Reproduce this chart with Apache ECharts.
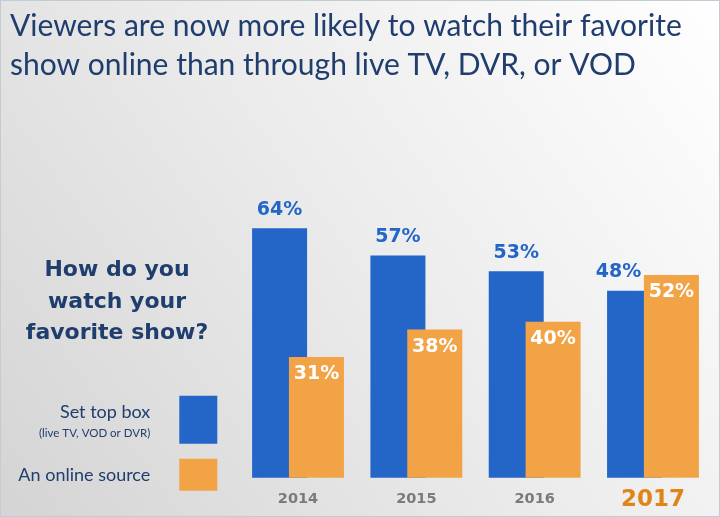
<!DOCTYPE html>
<html>
<head>
<meta charset="utf-8">
<script src="https://cdn.jsdelivr.net/npm/echarts@6/dist/echarts.min.js"></script>
<style>html,body{margin:0;padding:0;background:#fff}#c{width:720px;height:517px}</style>
</head>
<body>
<div id="c"></div>
<script>
const categories = ['2014', '2015', '2016', '2017'];
const setTopBox = [64, 57, 53, 48];
const onlineSource = [31, 38, 40, 52];
const seriesNames = ['Set top box', 'An online source'];
const titleLines = ['Viewers are now more likely to watch their favorite', 'show online than through live TV, DVR, or VOD'];
const questionText = 'How do you\nwatch your\nfavorite show?';

const NAVY = '#1f3d6d';
const BLUE = '#2366c8';
const ORANGE = '#f2a346';
const TITLE_FONT = 'Lato';
const BOLD_FONT = '"DejaVu Sans"';

// fit the title font size so the first line spans the same width as in the reference
const mctx = document.createElement('canvas').getContext('2d');
mctx.font = 'normal 100px ' + TITLE_FONT;
const titleSize = Math.min(34, 100 * 672 / mctx.measureText(titleLines[0]).width);

const chart = echarts.init(document.getElementById('c'), null, {renderer: 'canvas'});
chart.setOption({
  animation: false,
  backgroundColor: 'transparent',
  graphic: [
    {
      type: 'rect', z: -10, silent: true,
      shape: {x: 0, y: 0, width: 720, height: 517},
      style: {
        fill: new echarts.graphic.LinearGradient(1, 0, 0, 1, [
          {offset: 0, color: '#ffffff'},
          {offset: 0.5, color: '#ebebeb'},
          {offset: 1, color: '#d4d4d4'}
        ]),
        stroke: '#c3cbd3', lineWidth: 2
      }
    },
    {
      type: 'text', x: 117, y: 255, silent: true,
      style: {
        text: questionText, fill: NAVY, textAlign: 'center',
        font: 'bold 22px ' + BOLD_FONT, lineHeight: 31.5
      }
    }
  ],
  title: {
    text: titleLines.join('\n'),
    left: 10, top: 7, padding: 0,
    textStyle: {fontFamily: TITLE_FONT, fontWeight: 'normal', fontSize: titleSize, lineHeight: 39, color: NAVY}
  },
  legend: [
    {
      data: [seriesNames[0]], right: 502.7, top: 395.7, orient: 'vertical', padding: 0,
      itemWidth: 38, itemHeight: 48, align: 'right', icon: 'rect',
      formatter: '{a|Set top box}\n{b|(live TV, VOD or DVR)}',
      textStyle: {
        padding: [6, 24, 0, 0],
        rich: {
          a: {fontSize: 18, color: NAVY, align: 'right', lineHeight: 21, fontFamily: TITLE_FONT},
          b: {fontSize: 11.5, color: NAVY, align: 'right', lineHeight: 21, fontFamily: TITLE_FONT}
        }
      }
    },
    {
      data: [seriesNames[1]], right: 502.7, top: 458.7, orient: 'vertical', padding: 0,
      itemWidth: 38, itemHeight: 32, align: 'right', icon: 'rect',
      textStyle: {padding: [0, 24, 0, 0], fontSize: 18, color: NAVY, fontFamily: TITLE_FONT}
    }
  ],
  grid: {left: 238.85, right: 7.85, top: 88, bottom: 39.3, containLabel: false, outerBoundsMode: 'none'},
  xAxis: {
    type: 'category', data: categories,
    axisLine: {show: false}, axisTick: {show: false}, splitLine: {show: false},
    axisLabel: {
      margin: 9, interval: 0,
      formatter: function (v) { return v === '2017' ? '{hl|' + v + '}' : '{n|' + v + '}'; },
      rich: {
        n: {fontSize: 14.5, fontWeight: 'bold', color: '#7a7a7a', fontFamily: BOLD_FONT, lineHeight: 26},
        hl: {fontSize: 23, fontWeight: 'bold', color: '#e0841a', fontFamily: BOLD_FONT, lineHeight: 26}
      }
    }
  },
  yAxis: {type: 'value', min: 0, max: 100, show: false},
  series: [
    {
      name: seriesNames[0], type: 'bar', barWidth: 55, barGap: '-33%',
      itemStyle: {color: BLUE},
      data: setTopBox.map(function (v, i) {
        return i === 3 ? {value: v, label: {offset: [-16, 0]}} : v;
      }),
      label: {
        show: true, position: 'top', distance: 9, formatter: '{c}%',
        color: BLUE, fontSize: 19, fontWeight: 'bold', fontFamily: BOLD_FONT
      }
    },
    {
      name: seriesNames[1], type: 'bar', barWidth: 55, barGap: '-33%',
      itemStyle: {color: ORANGE},
      data: onlineSource,
      label: {
        show: true, position: 'insideTop', distance: 8, formatter: '{c}%',
        color: '#ffffff', fontSize: 19, fontWeight: 'bold', fontFamily: BOLD_FONT
      }
    }
  ]
});
</script>
</body>
</html>
